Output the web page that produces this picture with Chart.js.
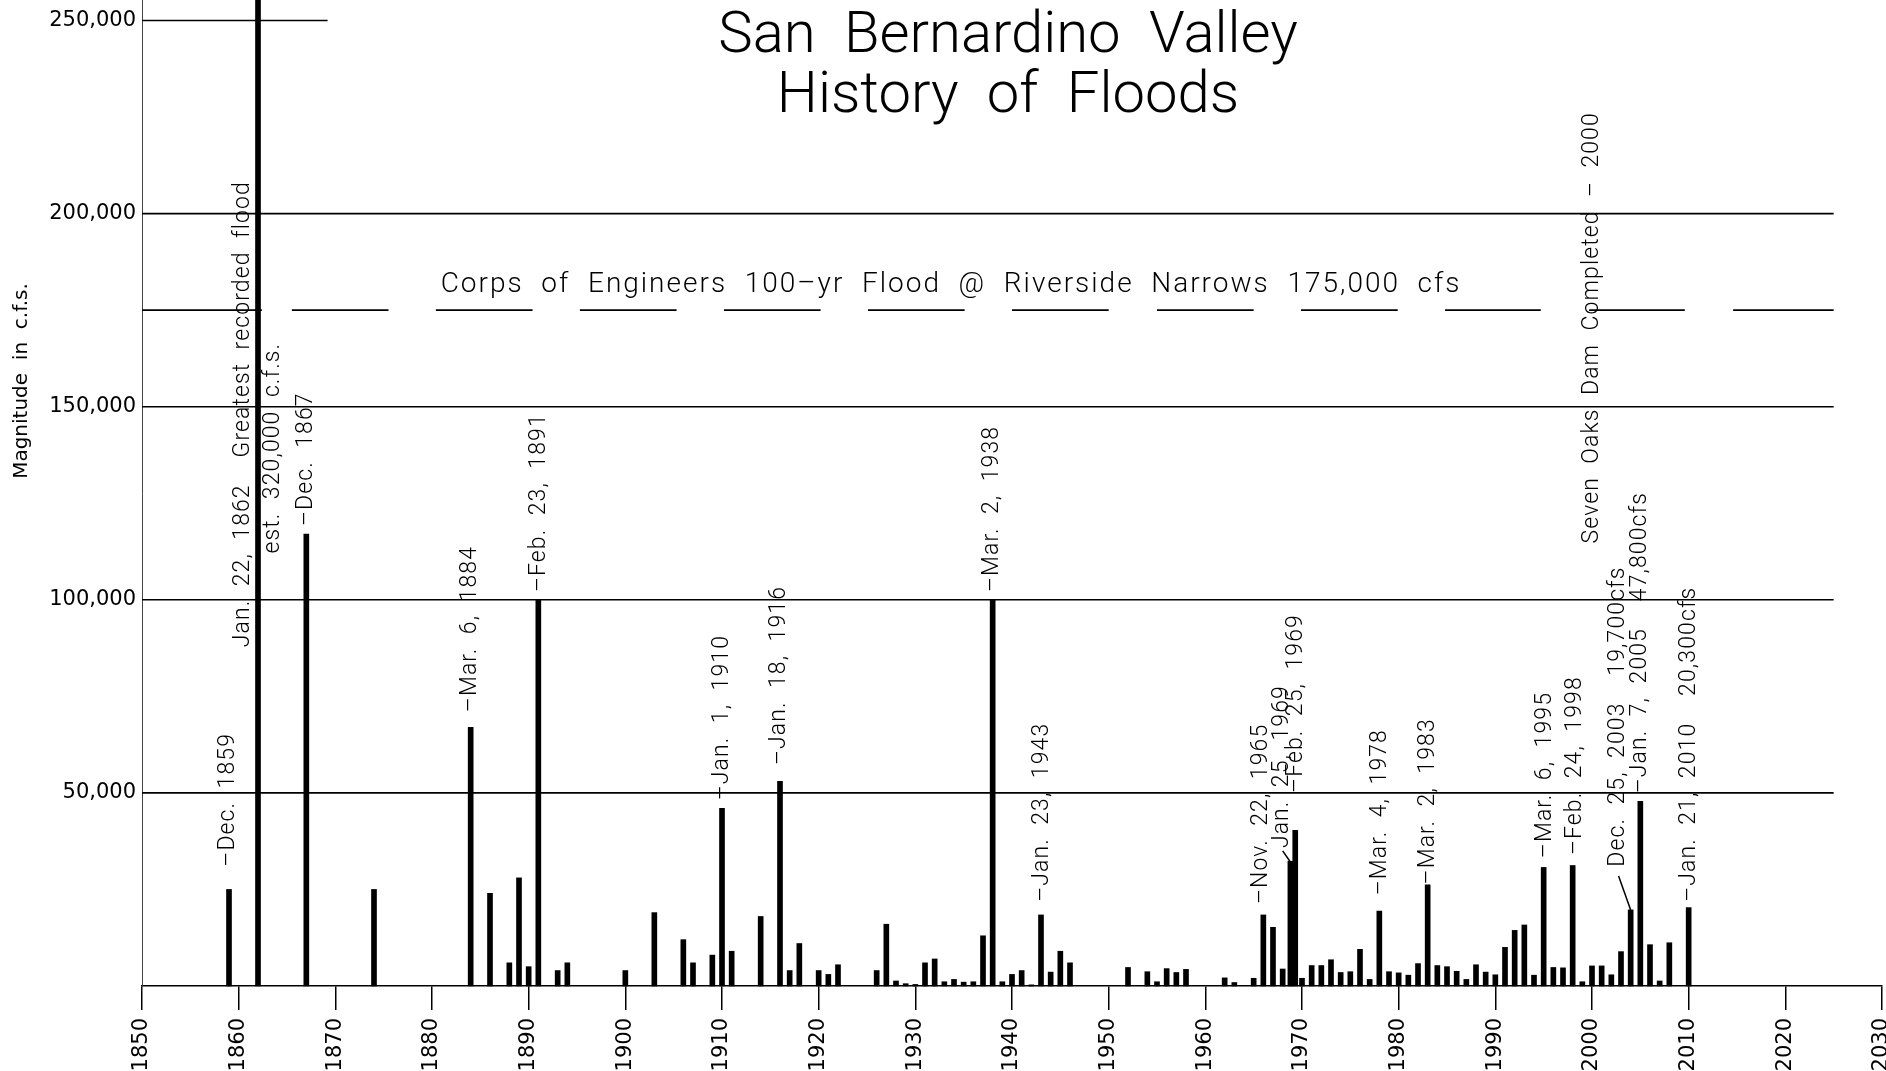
<!DOCTYPE html>
<html>
<head>
<meta charset="utf-8">
<script src="https://cdn.jsdelivr.net/npm/chart.js@4"></script>
<style>
  html, body { margin: 0; background: #fff; }
  #wrap { width: 1886px; height: 1071px; }
</style>
</head>
<body>
<div id="wrap"><canvas id="myChart" width="1886" height="1071"></canvas></div>
<script>
// flood peaks, year and c.f.s.
const years = [1859, 1862, 1867, 1874, 1884, 1886, 1888, 1889, 1890, 1891, 1893, 1894,
  1900, 1903, 1906, 1907, 1909, 1910, 1911, 1914, 1916, 1917, 1918, 1920, 1921, 1922,
  1926, 1927, 1928, 1929, 1930, 1931, 1932, 1933, 1934, 1935, 1936, 1937, 1938, 1939,
  1940, 1941, 1942, 1943, 1944, 1945, 1946, 1952, 1954, 1955, 1956, 1957, 1958, 1962,
  1963, 1965, 1966, 1967, 1968, 1968.8, 1969.3, 1970, 1971, 1972, 1973, 1974, 1975,
  1976, 1977, 1978, 1979, 1980, 1981, 1982, 1983, 1984, 1985, 1986, 1987, 1988, 1989,
  1990, 1991, 1992, 1993, 1994, 1995, 1996, 1997, 1998, 1999, 2000, 2001, 2002, 2003,
  2004, 2005, 2006, 2007, 2008, 2010]
const flows = [25000, 320000, 117000, 25000, 67000, 24000, 6000, 28000, 5000, 100000, 4000, 6000,
  4000, 19000, 12000, 6000, 8000, 46000, 9000, 18000, 53000, 4000, 11000, 4000, 3000, 5500,
  4000, 16000, 1300, 600, 400, 6000, 7000, 1100, 1700, 1000, 1100, 13000, 100000, 1100,
  3000, 4000, 300, 18400, 3600, 9000, 6000, 4800, 3700, 1100, 4500, 3500, 4300, 2100,
  900, 2000, 18400, 15200, 4400, 32300, 40300, 2000, 5300, 5300, 6800, 3500, 3700,
  9500, 1700, 19400, 3700, 3400, 2800, 5800, 26200, 5300, 5000, 3800, 1700, 5500, 3600,
  2900, 10000, 14400, 15800, 2800, 30700, 4800, 4700, 31200, 1100, 5200, 5200, 2900, 8900,
  19700, 47800, 10700, 1300, 11200, 20300]

const xTicks = [1850, 1860, 1870, 1880, 1890, 1900, 1910, 1920, 1930, 1940, 1950, 1960, 1970, 1980, 1990, 2000, 2010, 2020, 2030]
const yTicks = [50000, 100000, 150000, 200000, 250000]
const gridEnds = [2025, 2025, 2025, 2025, 1869.2]

// Corps of Engineers 100-yr flood line (dashed)
const hundredYr = 175000
const dashFrom = [1850, 1865.5, 1880.4, 1895.3, 1910.2, 1925.1, 1940, 1955, 1969.9, 1984.8, 1999.7, 2014.6]
const dashTo   = [1862.4, 1875.5, 1890.4, 1905.3, 1920.2, 1935.1, 1950, 1965, 1979.9, 1994.7, 2009.6, 2025]

// rotated notes: text, year (centre), value where the text starts
const noteText = [
  "–Dec.  1859",
  "Jan.  22,  1862    Greatest  recorded  flood",
  "est.  320,000  c.f.s.",
  "–Dec.  1867",
  "–Mar.  6,  1884",
  "–Feb.  23,  1891",
  "–Jan.  1,  1910",
  "–Jan.  18,  1916",
  "–Mar.  2,  1938",
  "–Jan.  23,  1943",
  "–Nov.  22,  1965",
  "Jan.  25,  1969",
  "–Feb.  25,  1969",
  "–Mar.  4,  1978",
  "–Mar.  2,  1983",
  "–Mar.  6,  1995",
  "–Feb.  24,  1998",
  "Dec.  25,  2003    19,700cfs",
  "–Jan.  7,  2005    47,800cfs",
  "–Jan.  21,  2010    20,300cfs",
  "Seven  Oaks  Dam  Completed  –  2000"
]
const noteYear = [1858.95, 1860.5, 1863.6, 1866.95, 1884.0, 1891.05, 1910.0, 1915.95, 1938.0, 1943.1,
  1965.75, 1968.0, 1969.45, 1978.05, 1983.05, 1995.2, 1998.3, 2002.7, 2004.95, 2010.05, 2000.0]
const noteStart = [30900, 87700, 112000, 119100, 70900, 102000, 48100, 57200, 102000, 21800,
  21200, 35700, 50000, 23500, 26300, 33100, 33900, 30900, 49900, 21800, 114600]

// leader lines from a note to its bar
const leadFromX = [1968.0, 2002.75]
const leadFromY = [35000, 28500]
const leadToX = [1968.75, 2004.0]
const leadToY = [32300, 19700]

const corpsText = "Corps  of  Engineers  100–yr  Flood  @  Riverside  Narrows  175,000  cfs"
const corpsYear = 1933.7
const corpsBase = 179700

const noteFont = '300 23px Roboto'
const tickFont = { family: 'DejaVu Sans', size: 21 }

const overlay = {
  id: 'overlay',
  beforeDatasetsDraw(chart) {
    const { ctx, scales: { x, y } } = chart
    ctx.save()
    ctx.strokeStyle = '#000'
    ctx.lineWidth = 1.6
    yTicks.forEach((v, i) => {
      const py = y.getPixelForValue(v)
      ctx.beginPath()
      ctx.moveTo(x.getPixelForValue(1850), py)
      ctx.lineTo(x.getPixelForValue(gridEnds[i]), py)
      ctx.stroke()
    })
    const py = y.getPixelForValue(hundredYr)
    dashFrom.forEach((s, i) => {
      ctx.beginPath()
      ctx.moveTo(x.getPixelForValue(s), py)
      ctx.lineTo(x.getPixelForValue(dashTo[i]), py)
      ctx.stroke()
    })
    ctx.restore()
  },
  afterDatasetsDraw(chart) {
    const { ctx, scales: { x, y } } = chart
    ctx.save()
    ctx.fillStyle = '#000'
    ctx.strokeStyle = '#000'

    // title
    ctx.font = '300 58px Roboto'
    ctx.textAlign = 'center'
    ctx.textBaseline = 'alphabetic'
    ctx.fillText('San  Bernardino  Valley', 1008, 52)
    ctx.fillText('History  of  Floods', 1008, 112)

    // corps line text
    ctx.font = '300 28px Roboto'
    ctx.letterSpacing = '2px'
    ctx.fillText(corpsText, x.getPixelForValue(corpsYear), y.getPixelForValue(corpsBase))

    // rotated notes
    ctx.font = noteFont
    ctx.letterSpacing = '1.1px'
    ctx.textAlign = 'left'
    ctx.textBaseline = 'middle'
    noteText.forEach((t, i) => {
      ctx.save()
      ctx.translate(x.getPixelForValue(noteYear[i]), y.getPixelForValue(noteStart[i]))
      ctx.rotate(-Math.PI / 2)
      ctx.fillText(t, 0, 0)
      ctx.restore()
    })

    ctx.lineWidth = 1.5
    leadFromX.forEach((lx, i) => {
      ctx.beginPath()
      ctx.moveTo(x.getPixelForValue(lx), y.getPixelForValue(leadFromY[i]))
      ctx.lineTo(x.getPixelForValue(leadToX[i]), y.getPixelForValue(leadToY[i]))
      ctx.stroke()
    })

    // y axis title
    ctx.letterSpacing = '0px'
    ctx.font = '20px "DejaVu Sans"'
    ctx.textAlign = 'center'
    ctx.translate(22, 381)
    ctx.rotate(-Math.PI / 2)
    ctx.fillText('Magnitude  in  c.f.s.', 0, 0)
    ctx.restore()
  }
}

new Chart('myChart', {
  type: 'bar',
  data: {
    datasets: [{
      data: years.map((yr, i) => ({ x: yr, y: flows[i] })),
      backgroundColor: '#000',
      borderWidth: 0,
      barThickness: 5,
      clip: false
    }]
  },
  options: {
    responsive: false,
    devicePixelRatio: 1,
    animation: false,
    layout: { padding: { top: 0, right: 4, left: 0, bottom: 0 } },
    plugins: { legend: { display: false }, tooltip: { enabled: false } },
    scales: {
      x: {
        type: 'linear',
        offset: false,
        min: 1850,
        max: 2030,
        afterFit: s => { s.height = 85; s.paddingLeft = 0; s.paddingRight = 0 },
        afterBuildTicks: s => { s.ticks = xTicks.map(v => ({ value: v })) },
        grid: { offset: false, drawOnChartArea: false, drawTicks: true, tickLength: 24, color: '#000', lineWidth: 1.5 },
        border: { display: true, color: '#000', width: 1.5 },
        ticks: { minRotation: 90, maxRotation: 90, padding: 8, color: '#000', font: tickFont, callback: v => String(v) }
      },
      y: {
        min: 0,
        max: 255300,
        afterFit: s => { s.width = 142; s.paddingTop = 0; s.paddingBottom = 0 },
        afterBuildTicks: s => { s.ticks = yTicks.map(v => ({ value: v })) },
        grid: { display: false, drawTicks: false },
        border: { display: true, color: '#444', width: 1 },
        ticks: { padding: 6, color: '#000', font: tickFont, callback: v => v.toLocaleString('en-US') }
      }
    }
  },
  plugins: [overlay]
})
</script>
</body>
</html>
